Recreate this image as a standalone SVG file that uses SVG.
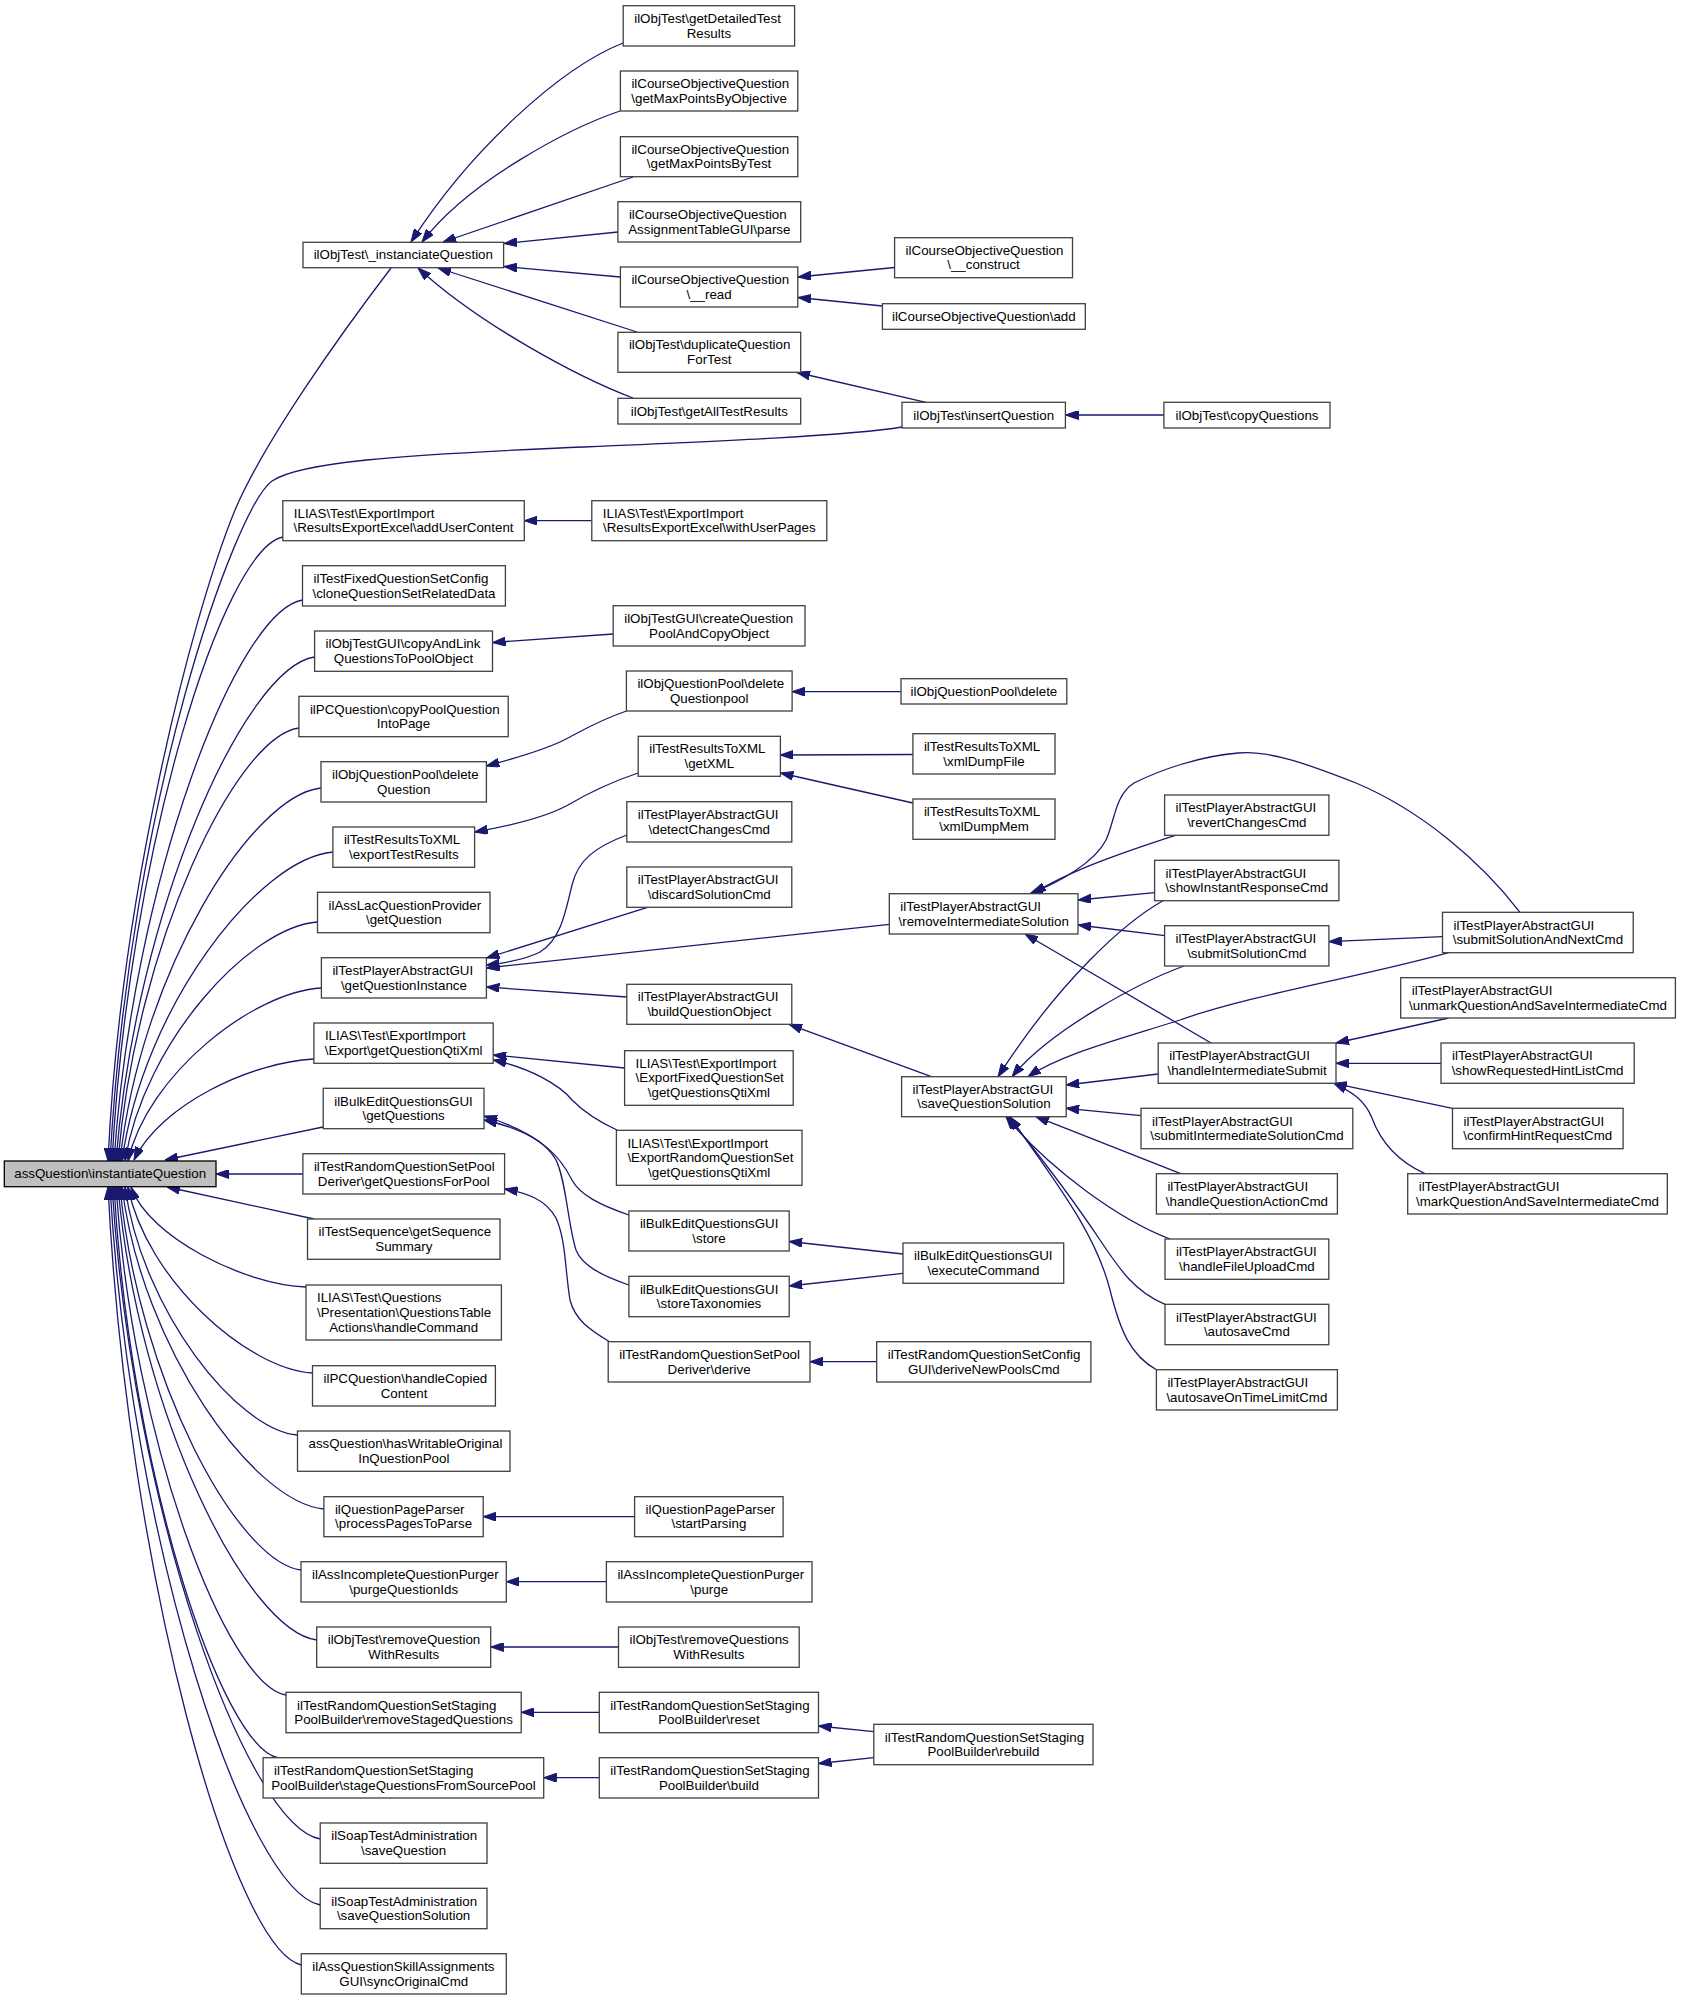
<svg xmlns="http://www.w3.org/2000/svg" width="1681" height="2000" viewBox="0 0 1681 2000">
<style>
.n rect{fill:#fff;stroke:#404040;stroke-width:1.3}
.n.root rect{fill:#bfbfbf;stroke:#000}
text{font-family:"Liberation Sans",Arial,Helvetica,sans-serif;font-size:13.33px;fill:#000}
.c{text-anchor:middle}
.e path{fill:none;stroke:#191970;stroke-width:1.3;marker-end:url(#ah)}
</style>
<defs>
<marker id="ah" viewBox="0 0 13 9" refX="13" refY="4.5" markerWidth="13" markerHeight="9" markerUnits="userSpaceOnUse" orient="auto">
<path d="M0,0 L13,4.5 L0,9 z" fill="#191970" stroke="#191970" stroke-width="1"/>
</marker>
</defs>
<rect x="0" y="0" width="1681" height="2000" fill="#fff"/>
<g id="edges" class="e">
<path d="M623,43 C560,68 470,150 411,242"/>
<path d="M620,111 C570,128 470,180 422,242"/>
<path d="M633,177 L443,242"/>
<path d="M618,232 L504,243.5"/>
<path d="M620,277 L504,266.5"/>
<path d="M637,332 L438,268"/>
<path d="M633,398 C580,378 480,325 418,268"/>
<path d="M894.6,267.5 L798,277"/>
<path d="M882.4,306 L798,297.5"/>
<path d="M926,402.3 L797,372.5"/>
<path d="M1164,415 L1065.5,415"/>
<path d="M391,268 C340,335 265,440 235,510 C190,620 120,900 108,1161"/>
<path d="M902,427 C850,436 700,442 560,448 C400,455 300,462 272,481 C235,508 130,800 110,1161"/>
<path d="M282.8,537 C223,549.5 129,849 112,1161"/>
<path d="M302.5,600 C236.5,611.2 132.9,880.5 114,1161"/>
<path d="M314.6,657 C245.1,667.1 135.9,909 116,1161"/>
<path d="M298.9,728 C235.6,736.7 136.1,944.5 118,1161"/>
<path d="M321,788 C250.7,795.5 140.1,974.5 120,1161"/>
<path d="M333,852 C259.2,858.2 143.1,1006.5 122,1161"/>
<path d="M317.5,922 C250.1,926.8 144.3,1041.5 125,1161"/>
<path d="M321.4,988 C253.7,991.5 147.3,1074.5 128,1161"/>
<path d="M314,1059 C251,1062 160,1105 134,1160"/>
<path d="M323,1127 L165,1160"/>
<path d="M303,1174 L216,1174"/>
<path d="M314,1219 L167,1187"/>
<path d="M306,1287 C244.8,1285 148.5,1237 131,1187"/>
<path d="M312.5,1373 C247.9,1369.3 146.5,1280 128,1187"/>
<path d="M297.5,1435 C237.1,1430 142.3,1311 125,1187"/>
<path d="M324,1509 C253.3,1502.6 142.2,1348 122,1187"/>
<path d="M301,1570 C237.7,1562.3 138.1,1378.5 120,1187"/>
<path d="M316.7,1640 C247.2,1631 137.9,1413.5 118,1187"/>
<path d="M286,1695 C226.5,1684.8 133,1441 116,1187"/>
<path d="M278.5,1758 C220.9,1746.6 130.5,1472.5 114,1187"/>
<path d="M320.2,1839 C247.3,1826 132.8,1513 112,1187"/>
<path d="M320.2,1905 C246.6,1890.6 131,1546 110,1187"/>
<path d="M301.3,1965 C233.6,1949.4 127.3,1576 108,1187"/>
<path d="M591.8,520.7 L524.3,520.7"/>
<path d="M613.2,634 L492.5,642.5"/>
<path d="M626.4,711 C595,722 580,732 568,738 C550,748 520,757 486.4,766"/>
<path d="M901,691.7 L792,691.7"/>
<path d="M638.2,773 C605,784 585,795 568,805 C550,815 520,824 474.6,832"/>
<path d="M912.9,754.5 L780.4,755"/>
<path d="M912.9,803 L780.4,773"/>
<path d="M626.8,835 C595,847 578,860 572,885 C565,915 560,940 540,952 C525,960 505,963 486.4,965"/>
<path d="M647.5,907.3 L486.4,958"/>
<path d="M889.3,924.3 L486.4,968"/>
<path d="M626.8,997 L486.4,987"/>
<path d="M624.6,1068 L493.2,1055"/>
<path d="M617,1130 C595,1120 582,1110 572,1100 C560,1085 530,1068 493.2,1060"/>
<path d="M628.9,1215 C600,1205 580,1195 572,1180 C562,1160 545,1135 484,1116"/>
<path d="M628.9,1285 C600,1275 582,1265 576,1250 C568,1225 566,1180 556,1160 C545,1140 520,1128 484,1120"/>
<path d="M610,1342 C590,1330 575,1320 570,1300 C565,1270 566,1240 556,1218 C546,1200 528,1193 504.6,1189"/>
<path d="M903,1254 L789.2,1241.5"/>
<path d="M903,1273.3 L789.2,1286"/>
<path d="M876.7,1361.7 L810,1361.7"/>
<path d="M931.4,1076.7 L789,1024.3"/>
<path d="M634.6,1516.7 L483.2,1516.7"/>
<path d="M606.4,1581.7 L506.3,1581.7"/>
<path d="M618.5,1647 L490.7,1647"/>
<path d="M599.3,1712.3 L521.2,1712.3"/>
<path d="M599.3,1777.7 L543.7,1777.7"/>
<path d="M873.8,1731.7 L818.5,1726"/>
<path d="M873.8,1757.7 L818.5,1763.5"/>
<path d="M1175.3,835.3 C1130,850 1070,870 1033,893.7"/>
<path d="M1520,912.3 C1480,860 1420,810 1356,783 C1310,765 1270,750 1238,753 C1200,756 1160,770 1134,783 C1115,795 1115,820 1106,840 C1095,862 1060,882 1030,893.7"/>
<path d="M1154.6,892.7 L1078,900"/>
<path d="M1164.6,935.7 L1078,925"/>
<path d="M1211,1043 L1025,934"/>
<path d="M1163,900.7 C1125,922 1060,980 998,1076.7"/>
<path d="M1184,966 C1140,982 1050,1030 1012,1076.7"/>
<path d="M1448.6,952.7 C1370,975 1250,995 1180,1020 C1110,1042 1060,1055 1028,1076.7"/>
<path d="M1158.2,1074 L1066.2,1085"/>
<path d="M1141,1115.7 L1066.2,1108.3"/>
<path d="M1180.7,1173.7 L1036,1116.7"/>
<path d="M1170,1239 C1120,1220 1050,1170 1006,1116.7"/>
<path d="M1165,1304.3 C1135,1292 1120,1270 1100,1240 C1070,1195 1035,1150 1008,1116.7"/>
<path d="M1156.4,1369.7 C1130,1355 1120,1330 1110,1290 C1095,1230 1050,1175 1010,1116.7"/>
<path d="M1442.5,936.7 L1328.9,941.7"/>
<path d="M1448.6,1018 L1336,1043"/>
<path d="M1441,1063.3 L1336,1063.3"/>
<path d="M1452.5,1108.3 L1334,1083.3"/>
<path d="M1425,1173.7 C1395,1160 1380,1140 1372,1118 C1365,1100 1352,1092 1334,1083.3"/>
</g>
<g id="n1" class="n root"><rect x="4.3" y="1161" width="211.7" height="25.7"/><text class="c" x="110.2" y="1178.3">assQuestion\instantiateQuestion</text></g>
<g id="n2" class="n"><rect x="303" y="242.3" width="200.6" height="25.4"/><text class="c" x="403.3" y="259.4">ilObjTest\_instanciateQuestion</text></g>
<g id="n3" class="n"><rect x="623.2" y="5.7" width="171.4" height="40.3"/><text x="634.2" y="22.9">ilObjTest\getDetailedTest</text><text class="c" x="708.9" y="37.6">Results</text></g>
<g id="n4" class="n"><rect x="620.4" y="71" width="177.4" height="40"/><text x="631.4" y="88.1">ilCourseObjectiveQuestion</text><text class="c" x="709.1" y="102.7">\getMaxPointsByObjective</text></g>
<g id="n5" class="n"><rect x="620.4" y="136.7" width="177.4" height="40"/><text x="631.4" y="153.8">ilCourseObjectiveQuestion</text><text class="c" x="709.1" y="168.4">\getMaxPointsByTest</text></g>
<g id="n6" class="n"><rect x="617.9" y="201.7" width="182.8" height="40.3"/><text x="628.9" y="218.9">ilCourseObjectiveQuestion</text><text class="c" x="709.3" y="233.6">AssignmentTableGUI\parse</text></g>
<g id="n7" class="n"><rect x="620.4" y="267" width="177.4" height="40"/><text x="631.4" y="284.1">ilCourseObjectiveQuestion</text><text class="c" x="709.1" y="298.7">\__read</text></g>
<g id="n8" class="n"><rect x="617.9" y="332.3" width="182.8" height="40"/><text x="628.9" y="349.4">ilObjTest\duplicateQuestion</text><text class="c" x="709.3" y="364">ForTest</text></g>
<g id="n9" class="n"><rect x="617.9" y="398.3" width="182.8" height="25.7"/><text class="c" x="709.3" y="415.6">ilObjTest\getAllTestResults</text></g>
<g id="n10" class="n"><rect x="894.6" y="237.7" width="177.9" height="40"/><text x="905.6" y="254.8">ilCourseObjectiveQuestion</text><text class="c" x="983.5" y="269.4">\__construct</text></g>
<g id="n11" class="n"><rect x="882.4" y="303.7" width="202.9" height="25.6"/><text class="c" x="983.8" y="320.9">ilCourseObjectiveQuestion\add</text></g>
<g id="n12" class="n"><rect x="902" y="402.3" width="163.4" height="25.7"/><text class="c" x="983.7" y="419.6">ilObjTest\insertQuestion</text></g>
<g id="n13" class="n"><rect x="1163.9" y="402.3" width="166.1" height="25.7"/><text class="c" x="1247" y="419.6">ilObjTest\copyQuestions</text></g>
<g id="n14" class="n"><rect x="282.8" y="500.7" width="241.5" height="40"/><text x="293.8" y="517.8">ILIAS\Test\ExportImport</text><text class="c" x="403.5" y="532.4">\ResultsExportExcel\addUserContent</text></g>
<g id="n15" class="n"><rect x="591.8" y="500.7" width="235" height="40"/><text x="602.8" y="517.8">ILIAS\Test\ExportImport</text><text class="c" x="709.3" y="532.4">\ResultsExportExcel\withUserPages</text></g>
<g id="n16" class="n"><rect x="302.5" y="565.7" width="202.9" height="40.3"/><text x="313.5" y="582.9">ilTestFixedQuestionSetConfig</text><text class="c" x="404" y="597.5">\cloneQuestionSetRelatedData</text></g>
<g id="n17" class="n"><rect x="314.6" y="631" width="177.9" height="40.3"/><text x="325.6" y="648.2">ilObjTestGUI\copyAndLink</text><text class="c" x="403.5" y="662.8">QuestionsToPoolObject</text></g>
<g id="n18" class="n"><rect x="298.9" y="696.3" width="209.3" height="40.4"/><text x="309.9" y="713.6">ilPCQuestion\copyPoolQuestion</text><text class="c" x="403.5" y="728.2">IntoPage</text></g>
<g id="n19" class="n"><rect x="321" y="761.7" width="165.4" height="40.3"/><text x="332" y="778.9">ilObjQuestionPool\delete</text><text class="c" x="403.7" y="793.5">Question</text></g>
<g id="n20" class="n"><rect x="332.9" y="827" width="141.7" height="40.3"/><text x="343.9" y="844.2">ilTestResultsToXML</text><text class="c" x="403.8" y="858.8">\exportTestResults</text></g>
<g id="n21" class="n"><rect x="317.5" y="892.3" width="172.5" height="40.4"/><text x="328.5" y="909.6">ilAssLacQuestionProvider</text><text class="c" x="403.8" y="924.2">\getQuestion</text></g>
<g id="n22" class="n"><rect x="321.4" y="957.7" width="165" height="40.3"/><text x="332.4" y="974.9">ilTestPlayerAbstractGUI</text><text class="c" x="403.9" y="989.5">\getQuestionInstance</text></g>
<g id="n23" class="n"><rect x="313.9" y="1023" width="179.3" height="40.3"/><text x="324.9" y="1040.2">ILIAS\Test\ExportImport</text><text class="c" x="403.6" y="1054.8">\Export\getQuestionQtiXml</text></g>
<g id="n24" class="n"><rect x="323.2" y="1088.3" width="160.8" height="40.4"/><text x="334.2" y="1105.6">ilBulkEditQuestionsGUI</text><text class="c" x="403.6" y="1120.2">\getQuestions</text></g>
<g id="n25" class="n"><rect x="302.9" y="1153.7" width="201.7" height="40.3"/><text x="313.9" y="1170.9">ilTestRandomQuestionSetPool</text><text class="c" x="403.8" y="1185.5">Deriver\getQuestionsForPool</text></g>
<g id="n26" class="n"><rect x="307.5" y="1219" width="192.5" height="40.3"/><text x="318.5" y="1236.2">ilTestSequence\getSequence</text><text class="c" x="403.8" y="1250.8">Summary</text></g>
<g id="n27" class="n"><rect x="306" y="1285" width="195.4" height="55"/><text x="317" y="1302.3">ILIAS\Test\Questions</text><text x="317" y="1316.9">\Presentation\QuestionsTable</text><text class="c" x="403.7" y="1331.5">Actions\handleCommand</text></g>
<g id="n28" class="n"><rect x="312.5" y="1365.7" width="182.9" height="40.3"/><text x="323.5" y="1382.9">ilPCQuestion\handleCopied</text><text class="c" x="404" y="1397.5">Content</text></g>
<g id="n29" class="n"><rect x="297.5" y="1431" width="212.5" height="40.3"/><text x="308.5" y="1448.2">assQuestion\hasWritableOriginal</text><text class="c" x="403.8" y="1462.8">InQuestionPool</text></g>
<g id="n30" class="n"><rect x="323.9" y="1496.7" width="159.3" height="40"/><text x="334.9" y="1513.8">ilQuestionPageParser</text><text class="c" x="403.6" y="1528.4">\processPagesToParse</text></g>
<g id="n31" class="n"><rect x="301" y="1561.7" width="205.3" height="40.3"/><text x="312" y="1578.9">ilAssIncompleteQuestionPurger</text><text class="c" x="403.7" y="1593.5">\purgeQuestionIds</text></g>
<g id="n32" class="n"><rect x="316.7" y="1627" width="174" height="40.3"/><text x="327.7" y="1644.2">ilObjTest\removeQuestion</text><text class="c" x="403.7" y="1658.8">WithResults</text></g>
<g id="n33" class="n"><rect x="286" y="1692.3" width="235.2" height="40.4"/><text x="297" y="1709.6">ilTestRandomQuestionSetStaging</text><text class="c" x="403.6" y="1724.2">PoolBuilder\removeStagedQuestions</text></g>
<g id="n34" class="n"><rect x="263.1" y="1757.7" width="280.6" height="40.3"/><text x="274.1" y="1774.9">ilTestRandomQuestionSetStaging</text><text class="c" x="403.4" y="1789.5">PoolBuilder\stageQuestionsFromSourcePool</text></g>
<g id="n35" class="n"><rect x="320.2" y="1823" width="166.8" height="40.3"/><text x="331.2" y="1840.2">ilSoapTestAdministration</text><text class="c" x="403.6" y="1854.8">\saveQuestion</text></g>
<g id="n36" class="n"><rect x="320.2" y="1888.3" width="166.8" height="40.4"/><text x="331.2" y="1905.6">ilSoapTestAdministration</text><text class="c" x="403.6" y="1920.2">\saveQuestionSolution</text></g>
<g id="n37" class="n"><rect x="301.3" y="1953.7" width="205" height="40.3"/><text x="312.3" y="1970.9">ilAssQuestionSkillAssignments</text><text class="c" x="403.8" y="1985.5">GUI\syncOriginalCmd</text></g>
<g id="n38" class="n"><rect x="613.2" y="605.7" width="191.8" height="40.3"/><text x="624.2" y="622.9">ilObjTestGUI\createQuestion</text><text class="c" x="709.1" y="637.5">PoolAndCopyObject</text></g>
<g id="n39" class="n"><rect x="626.4" y="671" width="165.7" height="40"/><text x="637.4" y="688.1">ilObjQuestionPool\delete</text><text class="c" x="709.2" y="702.7">Questionpool</text></g>
<g id="n40" class="n"><rect x="638.2" y="736.3" width="142.2" height="40"/><text x="649.2" y="753.4">ilTestResultsToXML</text><text class="c" x="709.3" y="768">\getXML</text></g>
<g id="n41" class="n"><rect x="626.8" y="801.7" width="165" height="40.3"/><text x="637.8" y="818.9">ilTestPlayerAbstractGUI</text><text class="c" x="709.3" y="833.5">\detectChangesCmd</text></g>
<g id="n42" class="n"><rect x="626.8" y="867" width="165" height="40.3"/><text x="637.8" y="884.2">ilTestPlayerAbstractGUI</text><text class="c" x="709.3" y="898.8">\discardSolutionCmd</text></g>
<g id="n43" class="n"><rect x="626.8" y="984.3" width="165" height="40"/><text x="637.8" y="1001.4">ilTestPlayerAbstractGUI</text><text class="c" x="709.3" y="1016">\buildQuestionObject</text></g>
<g id="n44" class="n"><rect x="624.6" y="1050.7" width="168.6" height="54.6"/><text x="635.6" y="1067.8">ILIAS\Test\ExportImport</text><text x="635.6" y="1082.4">\ExportFixedQuestionSet</text><text class="c" x="708.9" y="1097">\getQuestionsQtiXml</text></g>
<g id="n45" class="n"><rect x="616.4" y="1130.3" width="185.6" height="55"/><text x="627.4" y="1147.6">ILIAS\Test\ExportImport</text><text x="627.4" y="1162.2">\ExportRandomQuestionSet</text><text class="c" x="709.2" y="1176.8">\getQuestionsQtiXml</text></g>
<g id="n46" class="n"><rect x="628.9" y="1211" width="160.3" height="40"/><text x="639.9" y="1228.1">ilBulkEditQuestionsGUI</text><text class="c" x="709" y="1242.7">\store</text></g>
<g id="n47" class="n"><rect x="628.9" y="1276.3" width="160.3" height="40.4"/><text x="639.9" y="1293.6">ilBulkEditQuestionsGUI</text><text class="c" x="709" y="1308.2">\storeTaxonomies</text></g>
<g id="n48" class="n"><rect x="608.2" y="1341.7" width="201.8" height="40.3"/><text x="619.2" y="1358.9">ilTestRandomQuestionSetPool</text><text class="c" x="709.1" y="1373.5">Deriver\derive</text></g>
<g id="n49" class="n"><rect x="634.6" y="1496.7" width="148.5" height="40"/><text x="645.6" y="1513.8">ilQuestionPageParser</text><text class="c" x="708.9" y="1528.4">\startParsing</text></g>
<g id="n50" class="n"><rect x="606.4" y="1561.7" width="205.6" height="40.3"/><text x="617.4" y="1578.9">ilAssIncompleteQuestionPurger</text><text class="c" x="709.2" y="1593.5">\purge</text></g>
<g id="n51" class="n"><rect x="618.5" y="1627" width="180.7" height="40.3"/><text x="629.5" y="1644.2">ilObjTest\removeQuestions</text><text class="c" x="708.9" y="1658.8">WithResults</text></g>
<g id="n52" class="n"><rect x="599.3" y="1692.3" width="219.2" height="40.4"/><text x="610.3" y="1709.6">ilTestRandomQuestionSetStaging</text><text class="c" x="708.9" y="1724.2">PoolBuilder\reset</text></g>
<g id="n53" class="n"><rect x="599.3" y="1757.7" width="219.2" height="40.3"/><text x="610.3" y="1774.9">ilTestRandomQuestionSetStaging</text><text class="c" x="708.9" y="1789.5">PoolBuilder\build</text></g>
<g id="n54" class="n"><rect x="901" y="678.7" width="165.8" height="25.3"/><text class="c" x="983.9" y="695.8">ilObjQuestionPool\delete</text></g>
<g id="n55" class="n"><rect x="912.9" y="733.7" width="142.1" height="40.3"/><text x="923.9" y="750.9">ilTestResultsToXML</text><text class="c" x="984" y="765.5">\xmlDumpFile</text></g>
<g id="n56" class="n"><rect x="912.9" y="799" width="142.1" height="40.3"/><text x="923.9" y="816.2">ilTestResultsToXML</text><text class="c" x="984" y="830.8">\xmlDumpMem</text></g>
<g id="n57" class="n"><rect x="889.3" y="893.7" width="188.7" height="40.3"/><text x="900.3" y="910.9">ilTestPlayerAbstractGUI</text><text class="c" x="983.7" y="925.5">\removeIntermediateSolution</text></g>
<g id="n58" class="n"><rect x="901.6" y="1076.7" width="164.6" height="40"/><text x="912.6" y="1093.8">ilTestPlayerAbstractGUI</text><text class="c" x="983.9" y="1108.4">\saveQuestionSolution</text></g>
<g id="n59" class="n"><rect x="903" y="1243" width="160.7" height="40.3"/><text x="914" y="1260.2">ilBulkEditQuestionsGUI</text><text class="c" x="983.4" y="1274.8">\executeCommand</text></g>
<g id="n60" class="n"><rect x="876.7" y="1341.7" width="214.2" height="40.3"/><text x="887.7" y="1358.9">ilTestRandomQuestionSetConfig</text><text class="c" x="983.8" y="1373.5">GUI\deriveNewPoolsCmd</text></g>
<g id="n61" class="n"><rect x="873.8" y="1724.3" width="219.2" height="40.4"/><text x="884.8" y="1741.6">ilTestRandomQuestionSetStaging</text><text class="c" x="983.4" y="1756.2">PoolBuilder\rebuild</text></g>
<g id="n62" class="n"><rect x="1164.6" y="795" width="164.3" height="40.3"/><text x="1175.6" y="812.2">ilTestPlayerAbstractGUI</text><text class="c" x="1246.8" y="826.8">\revertChangesCmd</text></g>
<g id="n63" class="n"><rect x="1154.6" y="860.3" width="184.3" height="40.4"/><text x="1165.6" y="877.6">ilTestPlayerAbstractGUI</text><text class="c" x="1246.8" y="892.2">\showInstantResponseCmd</text></g>
<g id="n64" class="n"><rect x="1164.6" y="925.7" width="164.3" height="40.3"/><text x="1175.6" y="942.9">ilTestPlayerAbstractGUI</text><text class="c" x="1246.8" y="957.5">\submitSolutionCmd</text></g>
<g id="n65" class="n"><rect x="1158.2" y="1043" width="177.8" height="40.3"/><text x="1169.2" y="1060.2">ilTestPlayerAbstractGUI</text><text class="c" x="1247.1" y="1074.8">\handleIntermediateSubmit</text></g>
<g id="n66" class="n"><rect x="1141" y="1108.3" width="211.8" height="40.4"/><text x="1152" y="1125.6">ilTestPlayerAbstractGUI</text><text class="c" x="1246.9" y="1140.2">\submitIntermediateSolutionCmd</text></g>
<g id="n67" class="n"><rect x="1156.4" y="1173.7" width="181" height="40.3"/><text x="1167.4" y="1190.9">ilTestPlayerAbstractGUI</text><text class="c" x="1246.9" y="1205.5">\handleQuestionActionCmd</text></g>
<g id="n68" class="n"><rect x="1165" y="1239" width="163.8" height="40.3"/><text x="1176" y="1256.2">ilTestPlayerAbstractGUI</text><text class="c" x="1246.9" y="1270.8">\handleFileUploadCmd</text></g>
<g id="n69" class="n"><rect x="1165" y="1304.3" width="163.8" height="40.4"/><text x="1176" y="1321.6">ilTestPlayerAbstractGUI</text><text class="c" x="1246.9" y="1336.2">\autosaveCmd</text></g>
<g id="n70" class="n"><rect x="1156.4" y="1369.7" width="181" height="40.3"/><text x="1167.4" y="1386.9">ilTestPlayerAbstractGUI</text><text class="c" x="1246.9" y="1401.5">\autosaveOnTimeLimitCmd</text></g>
<g id="n71" class="n"><rect x="1442.5" y="912.3" width="190.7" height="40.4"/><text x="1453.5" y="929.6">ilTestPlayerAbstractGUI</text><text class="c" x="1537.9" y="944.2">\submitSolutionAndNextCmd</text></g>
<g id="n72" class="n"><rect x="1400.7" y="977.7" width="274.7" height="40.3"/><text x="1411.7" y="994.9">ilTestPlayerAbstractGUI</text><text class="c" x="1538" y="1009.5">\unmarkQuestionAndSaveIntermediateCmd</text></g>
<g id="n73" class="n"><rect x="1441" y="1043" width="193.2" height="40.3"/><text x="1452" y="1060.2">ilTestPlayerAbstractGUI</text><text class="c" x="1537.6" y="1074.8">\showRequestedHintListCmd</text></g>
<g id="n74" class="n"><rect x="1452.5" y="1108.3" width="170.6" height="40.4"/><text x="1463.5" y="1125.6">ilTestPlayerAbstractGUI</text><text class="c" x="1537.8" y="1140.2">\confirmHintRequestCmd</text></g>
<g id="n75" class="n"><rect x="1407.7" y="1173.7" width="259.6" height="40.3"/><text x="1418.7" y="1190.9">ilTestPlayerAbstractGUI</text><text class="c" x="1537.5" y="1205.5">\markQuestionAndSaveIntermediateCmd</text></g>
</svg>
